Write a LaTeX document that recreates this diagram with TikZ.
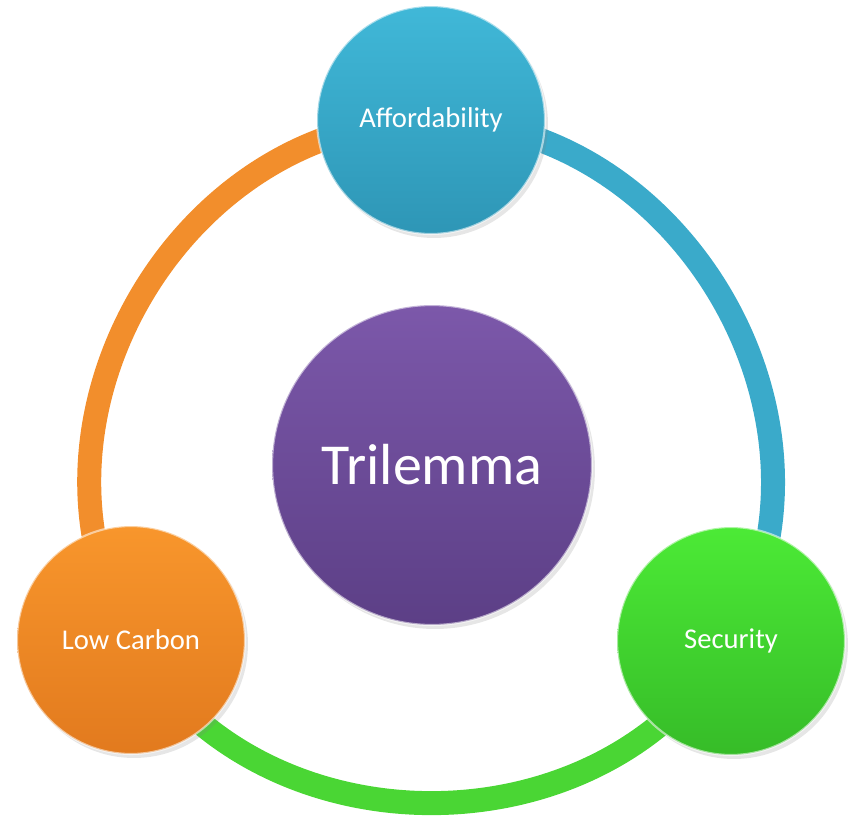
\documentclass[tikz,border=0pt]{standalone}
\usepackage{fontspec}
\setmainfont{Carlito}
\usepackage{xcolor}
\usepackage{tikz}
\usetikzlibrary{backgrounds,shadows}

\definecolor{afftop}{HTML}{40B8D8}
\definecolor{affbot}{HTML}{2E96B6}
\definecolor{lowtop}{HTML}{F8962C}
\definecolor{lowbot}{HTML}{E27A1E}
\definecolor{sectop}{HTML}{4CEA36}
\definecolor{secbot}{HTML}{36BC28}
\definecolor{tritop}{HTML}{7C58AA}
\definecolor{tribot}{HTML}{5C3F86}
\definecolor{ringorange}{HTML}{F28E2C}
\definecolor{ringblue}{HTML}{3AAACA}
\definecolor{ringgreen}{HTML}{4AD634}

\begin{document}
\begin{tikzpicture}[x=0.02cm,y=-0.02cm,
	ball/.style={circle,inner sep=0pt,minimum size=4.56cm,text=white,
		font=\fontsize{16.3}{19}\selectfont,draw=white,draw opacity=0.55,line width=1.2pt,
		drop shadow={opacity=0.2,shadow xshift=0.6mm,shadow yshift=-0.8mm}},
	ringarc/.style={line width=0.48cm,bend right=60,looseness=1.07}]
		\useasboundingbox (0,0) rectangle (853,823);
		\node[ball,top color=afftop,bottom color=affbot] (afford) at (431,120) {Affordability};
		\node[ball,top color=lowtop,bottom color=lowbot] (lowcarb) at (131,640) {Low Carbon};
		\node[ball,top color=sectop,bottom color=secbot] (secur) at (731,641) {Security};
		\node[ball,minimum size=6.4cm,font=\fontsize{33}{39}\selectfont,
			top color=tritop,bottom color=tribot] (trilemma) at (432,465) {Trilemma};
		\begin{pgfonlayer}{background}
		\draw[ringarc,ringorange] (afford.center) to (lowcarb.center);
		\draw[ringarc,ringgreen] (lowcarb.center) to (secur.center);
		\draw[ringarc,ringblue] (secur.center) to (afford.center);
		\end{pgfonlayer}
		\end{tikzpicture}
\end{document}
